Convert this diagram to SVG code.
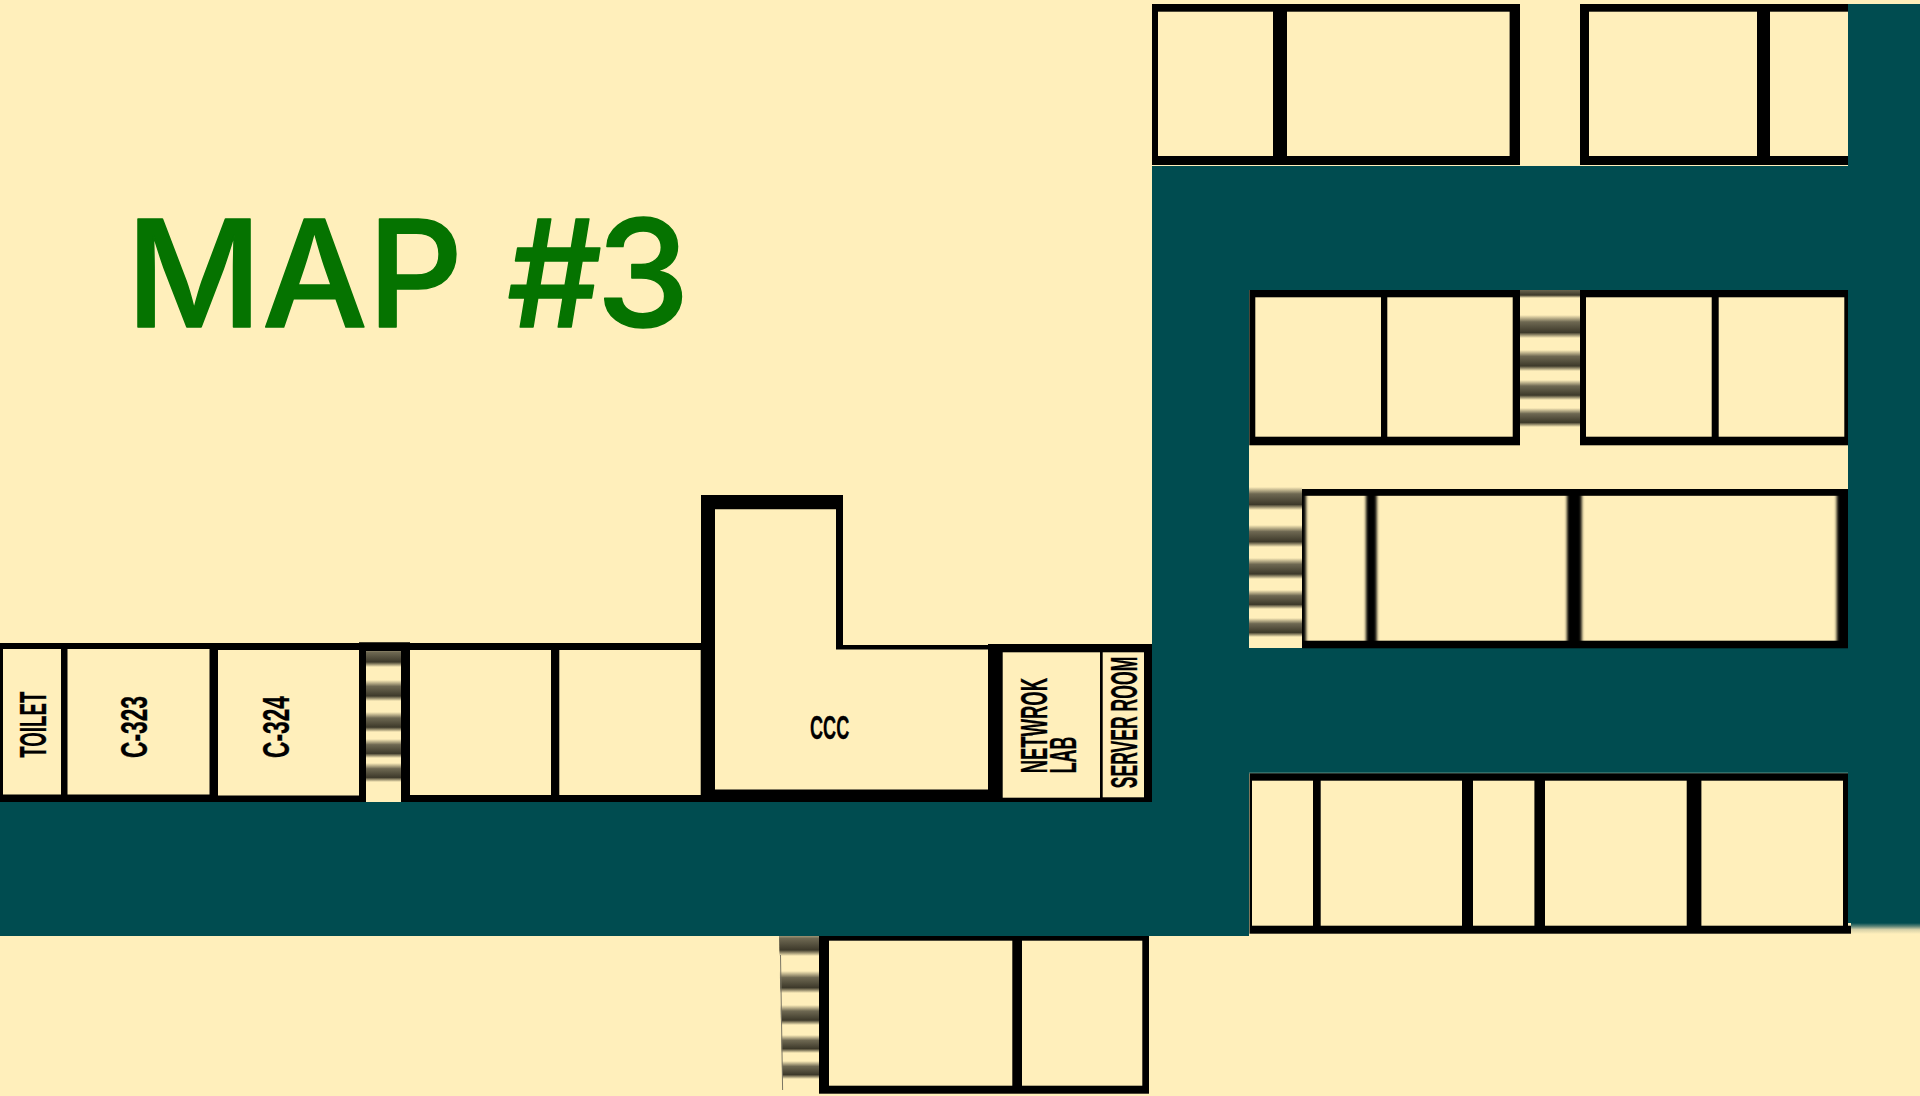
<svg xmlns="http://www.w3.org/2000/svg" width="1920" height="1096" viewBox="0 0 1920 1096">
<style>
.teal{fill:#004c50}
.wall{fill:#000}
.room{fill:#ffefbb;filter:url(#soft)}
.roomx{fill:#ffefbb;filter:url(#softx)}
.floor{fill:#ffefbb}
.tread{fill:url(#tread)}
.lbl{font-family:"Liberation Sans",Arial,sans-serif;font-weight:700;font-size:36px;fill:#000;stroke:#000;stroke-width:0.3px}
.title{font-family:Inter,"Liberation Sans",sans-serif;font-weight:500;font-size:149px;fill:#057300;stroke:#057300;stroke-width:1.5px;stroke-linejoin:round}
</style>
<defs>
<filter id="soft" x="-5%" y="-5%" width="110%" height="110%"><feGaussianBlur stdDeviation="0.6"/></filter>
<filter id="softx" x="-5%" y="-5%" width="110%" height="110%"><feGaussianBlur stdDeviation="1.6 0.6"/></filter>
<linearGradient id="tread" x1="0" y1="0" x2="0" y2="1">
<stop offset="0" stop-color="#ffefbb"/>
<stop offset="0.3" stop-color="#6e6852"/>
<stop offset="0.76" stop-color="#3d392a"/>
<stop offset="1" stop-color="#ffefbb"/>
</linearGradient>
<linearGradient id="fade" x1="0" y1="0" x2="0" y2="1">
<stop offset="0" stop-color="#004c50"/>
<stop offset="0.3" stop-color="#5d8578"/>
<stop offset="0.6" stop-color="#d5d0a8"/>
<stop offset="1" stop-color="#ffefbb"/>
</linearGradient>
<clipPath id="slant"><polygon points="779,936 819,936 819,1090 782.5,1090"/></clipPath>
<clipPath id="s2"><rect x="1520" y="290" width="60" height="155"/></clipPath>
</defs>
<rect width="1920" height="1096" fill="#ffefbb"/>

<g id="corridors">
<rect class="teal" x="1152" y="166" width="768" height="124"/>
<rect class="teal" x="1152" y="166" width="97" height="770"/>
<rect class="teal" x="1848" y="4" width="72" height="919"/>
<rect class="teal" x="1249" y="648" width="610" height="125.5"/>
<rect class="teal" x="0" y="802" width="1249" height="134"/>
<rect x="1851" y="923" width="69" height="11" fill="url(#fade)"/>
<rect x="1249" y="772.7" width="599" height="0.8" fill="#9fc0b0"/>
</g>

<text id="title" class="title" y="327.3"><tspan x="126">MAP</tspan> <tspan x="507" letter-spacing="-6">#3</tspan></text>

<g id="row-top">
<rect class="wall" x="1152" y="4" width="368" height="161"/>
<rect class="room" x="1158" y="11.7" width="115" height="144.3"/>
<rect class="room" x="1287" y="11.7" width="222.6" height="144.3"/>
<rect class="wall" x="1580" y="4" width="268" height="161"/>
<rect class="room" x="1589" y="11.7" width="168" height="144.3"/>
<rect class="room" x="1770" y="11.7" width="78" height="144.3"/>
</g>

<g id="row-2">
<rect class="wall" x="1249.3" y="290" width="270.7" height="155.3"/>
<rect class="room" x="1255.3" y="297.3" width="125.7" height="139.4"/>
<rect class="room" x="1387.3" y="297.3" width="125.4" height="139.4"/>
<rect class="wall" x="1580" y="290" width="268" height="155.3"/>
<rect class="room" x="1586" y="297.3" width="125.7" height="139.4"/>
<rect class="room" x="1718.7" y="297.3" width="125.6" height="139.4"/>
</g>

<g id="stair-2" clip-path="url(#s2)">
<rect class="tread" x="1520" y="286" width="60" height="12"/>
<rect class="tread" x="1520" y="315" width="60" height="23"/>
<rect class="tread" x="1520" y="350" width="60" height="21"/>
<rect class="tread" x="1520" y="380" width="60" height="20"/>
<rect class="tread" x="1520" y="408" width="60" height="19"/>
</g>

<g id="row-3">
<rect class="wall" x="1302" y="489" width="546" height="159.3"/>
<rect class="roomx" x="1306" y="495.8" width="60" height="144.9"/>
<rect class="roomx" x="1376.7" y="495.8" width="190.3" height="144.9"/>
<rect class="roomx" x="1581.7" y="495.8" width="255" height="144.9"/>
</g>

<g id="stair-3">
<rect class="tread" x="1249" y="487" width="53" height="23"/>
<rect class="tread" x="1249" y="525" width="53" height="22"/>
<rect class="tread" x="1249" y="558" width="53" height="21"/>
<rect class="tread" x="1249" y="590" width="53" height="19"/>
<rect class="tread" x="1249" y="618" width="53" height="19"/>
</g>

<g id="row-4">
<rect class="wall" x="1249.5" y="773.3" width="598.5" height="160.4"/>
<rect class="wall" x="1848" y="925.7" width="3" height="8"/>
<rect class="room" x="1252" y="780.7" width="61" height="145"/>
<rect class="room" x="1320.7" y="780.7" width="141.3" height="145"/>
<rect class="room" x="1473" y="780.7" width="61.4" height="145"/>
<rect class="room" x="1545" y="780.7" width="141.7" height="145"/>
<rect class="room" x="1701.4" y="780.7" width="141.6" height="145"/>
</g>

<g id="row-bottom">
<rect class="wall" x="819" y="936" width="330" height="157.7"/>
<rect class="room" x="829" y="940.7" width="183.3" height="145"/>
<rect class="room" x="1022" y="940.7" width="120.3" height="145"/>
</g>

<g id="stair-4" clip-path="url(#slant)">
<rect class="tread" x="779" y="931" width="40" height="25"/>
<rect class="tread" x="779" y="971" width="40" height="22"/>
<rect class="tread" x="779" y="1005" width="40" height="20"/>
<rect class="tread" x="779" y="1035" width="40" height="18"/>
<rect class="tread" x="779" y="1061" width="40" height="18"/>
</g>
<path d="M780.5 955L782.6 1090" fill="none" stroke="#7a7563" stroke-width="1"/>

<g id="left-wing">
<rect class="wall" x="0" y="643" width="366" height="159"/>
<rect class="wall" x="359" y="642.5" width="51" height="8.5"/>
<rect class="wall" x="401" y="643" width="300" height="159"/>
<g id="toilet">
<rect class="room" x="3" y="649" width="58" height="145.5"/>
<text class="lbl" transform="translate(46,757.7) rotate(-90)" textLength="66" lengthAdjust="spacingAndGlyphs">TOILET</text>
</g>
<g id="c-323">
<rect class="room" x="67.5" y="649" width="142" height="145.5"/>
<text class="lbl" transform="translate(147,758) rotate(-90)" textLength="62" lengthAdjust="spacingAndGlyphs">C-323</text>
</g>
<g id="c-324">
<rect class="room" x="218" y="650" width="141" height="145.5"/>
<text class="lbl" transform="translate(289,758) rotate(-90)" textLength="62" lengthAdjust="spacingAndGlyphs">C-324</text>
</g>
<g id="stair-1">
<rect class="floor" x="366" y="651" width="35" height="151"/>
<rect class="tread" x="366" y="646" width="35" height="21"/>
<rect class="tread" x="366" y="680" width="35" height="21"/>
<rect class="tread" x="366" y="712" width="35" height="20"/>
<rect class="tread" x="366" y="739" width="35" height="19"/>
<rect class="tread" x="366" y="763" width="35" height="19"/>
<rect class="wall" x="359" y="642.5" width="51" height="8.5"/>
</g>
<rect class="room" x="410" y="650" width="141" height="145"/>
<rect class="room" x="559.3" y="650" width="141.4" height="145"/>
</g>

<g id="ccc">
<polygon class="wall" points="701,495 843,495 843,645 1002.7,645 1002.7,802 701,802"/>
<polygon class="room" points="715,509.3 836,509.3 836,649.5 988.5,649.5 988.5,789.5 715,789.5"/>
<text class="lbl" x="810" y="739.3" textLength="39.3" lengthAdjust="spacingAndGlyphs" style="font-size:33px">CCC</text>
</g>

<g id="network-lab">
<rect class="wall" x="988" y="644" width="164" height="158"/>
<rect class="floor" x="1002.7" y="652.3" width="97.3" height="145.4"/>
<text class="lbl" transform="translate(1046.7,773.3) rotate(-90)" textLength="95.3" lengthAdjust="spacingAndGlyphs">NETWROK</text>
<text class="lbl" transform="translate(1075.7,773.3) rotate(-90)" textLength="36.6" lengthAdjust="spacingAndGlyphs">LAB</text>
</g>
<g id="server-room">
<rect class="floor" x="1102.7" y="652.3" width="41.3" height="145"/>
<text class="lbl" transform="translate(1136.7,788.3) rotate(-90)" textLength="131.6" lengthAdjust="spacingAndGlyphs">SERVER ROOM</text>
</g>
</svg>
